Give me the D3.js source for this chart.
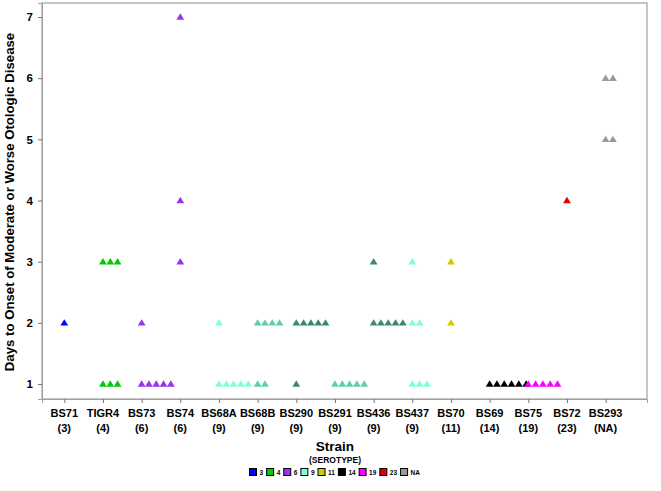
<!DOCTYPE html>
<html><head><meta charset="utf-8">
<script src="https://cdn.jsdelivr.net/npm/d3@7"></script>
<style>body{margin:0;background:#fff}svg{display:block;font-family:"Liberation Sans",Arial,sans-serif;font-weight:bold}</style>
</head><body><svg id="c" width="661" height="491"></svg>
<script>
const strains = ["BS71","TIGR4","BS73","BS74","BS68A","BS68B","BS290","BS291","BS436","BS437","BS70","BS69","BS75","BS72","BS293"];
const serotypes = ["3","4","6","6","9","9","9","9","9","9","11","14","19","23","NA"];
// days to onset per animal, for each strain
const days = [
  [2],
  [3,3,3,1,1,1],
  [2,1,1,1,1,1],
  [7,4,3],
  [2,1,1,1,1,1],
  [2,2,2,2,1,1],
  [2,2,2,2,2,1],
  [1,1,1,1,1],
  [3,2,2,2,2,2],
  [3,2,2,1,1,1],
  [3,2],
  [1,1,1,1,1,1],
  [1,1,1,1,1],
  [4],
  [6,6,5,5]
];
const pointColors = ["#0000ff","#00cc00","#9933ee","#9933ee","#80ffd4","#5fcfa6","#3a8a6c","#5fcfa6","#3a8a6c","#80ffd4","#cccc00","#000000","#ff00ff","#dd0000","#999999"];
const legendKeys = ["3","4","6","9","11","14","19","23","NA"];
const legendColors = ["#0000ff","#00cc00","#9933ee","#80ffd4","#cccc00","#000000","#ff00ff","#dd0000","#999999"];
const yTicks = [1,2,3,4,5,6,7];

const svg = d3.select("#c");
const L=42, R=647, T=3, B=399;
const x = d3.scaleLinear().domain([-0.577, 15.07]).range([L, R]);
const y = d3.scaleLinear().domain([0.755, 7.229]).range([B, T]);
const step = 7.3;

// frame
svg.append("rect").attr("x",L).attr("y",T).attr("width",R-L).attr("height",B-T)
  .attr("fill","none").attr("stroke","#a0a0a0").attr("stroke-width",1.2);

// y axis
const ya = svg.append("g").attr("transform",`translate(${L},0)`)
  .call(d3.axisLeft(y).tickValues(yTicks).tickFormat(d3.format("d")).tickSize(4).tickPadding(5));
ya.select(".domain").attr("stroke","#a0a0a0");
ya.selectAll(".tick line").attr("stroke","#777");
ya.selectAll("text").attr("font-size",11.5).attr("font-weight","bold").attr("fill","#000").attr("font-family","Liberation Sans, Arial, sans-serif");

// x axis
const xa = svg.append("g").attr("transform",`translate(0,${B})`)
  .call(d3.axisBottom(x).tickValues(d3.range(strains.length)).tickFormat("").tickSize(4));
xa.select(".domain").attr("stroke","#a0a0a0");
xa.selectAll(".tick line").attr("stroke","#777");
const lab = svg.append("g").selectAll("text").data(strains).join("text")
  .attr("x",(d,i)=>x(i)).attr("text-anchor","middle").attr("font-size",11);
lab.append("tspan").attr("x",(d,i)=>x(i)).attr("y",417).text(d=>d);
lab.append("tspan").attr("x",(d,i)=>x(i)).attr("y",432).text((d,i)=>"("+serotypes[i]+")");

// y title
svg.append("text").attr("transform","translate(14,202) rotate(-90)").attr("text-anchor","middle")
  .attr("font-size",13.2).text("Days to Onset of Moderate or Worse Otologic Disease");

// x title
svg.append("text").attr("x",335).attr("y",451).attr("text-anchor","middle").attr("font-size",13.5).text("Strain");
svg.append("text").attr("x",335).attr("y",463).attr("text-anchor","middle").attr("font-size",8.5).text("(SEROTYPE)");

// points
const pts = [];
days.forEach((arr,i)=>{
  const cnt = {};
  arr.forEach(v=>{ const k = cnt[v]||0; cnt[v]=k+1; pts.push({i,v,k}); });
});
const tri = "M0,-3.7L3.9,2.7L-3.9,2.7Z";
svg.append("g").selectAll("path").data(pts).join("path")
  .attr("d",tri)
  .attr("transform",d=>`translate(${x(d.i)+d.k*step},${y(d.v)})`)
  .attr("fill",d=>pointColors[d.i]);

// legend
const lg = svg.append("g");
let lx = 249;
legendKeys.forEach((k,j)=>{
  lg.append("rect").attr("x",lx+0.5).attr("y",468.5).attr("width",7).attr("height",7)
    .attr("fill",legendColors[j]).attr("stroke","#000").attr("stroke-width",1);
  const t = lg.append("text").attr("x",lx+10.5).attr("y",475).attr("font-size",6.5).text(k);
  const w = t.node().getComputedTextLength();
  lx += 10.5 + w + 3;
});
</script></body></html>
